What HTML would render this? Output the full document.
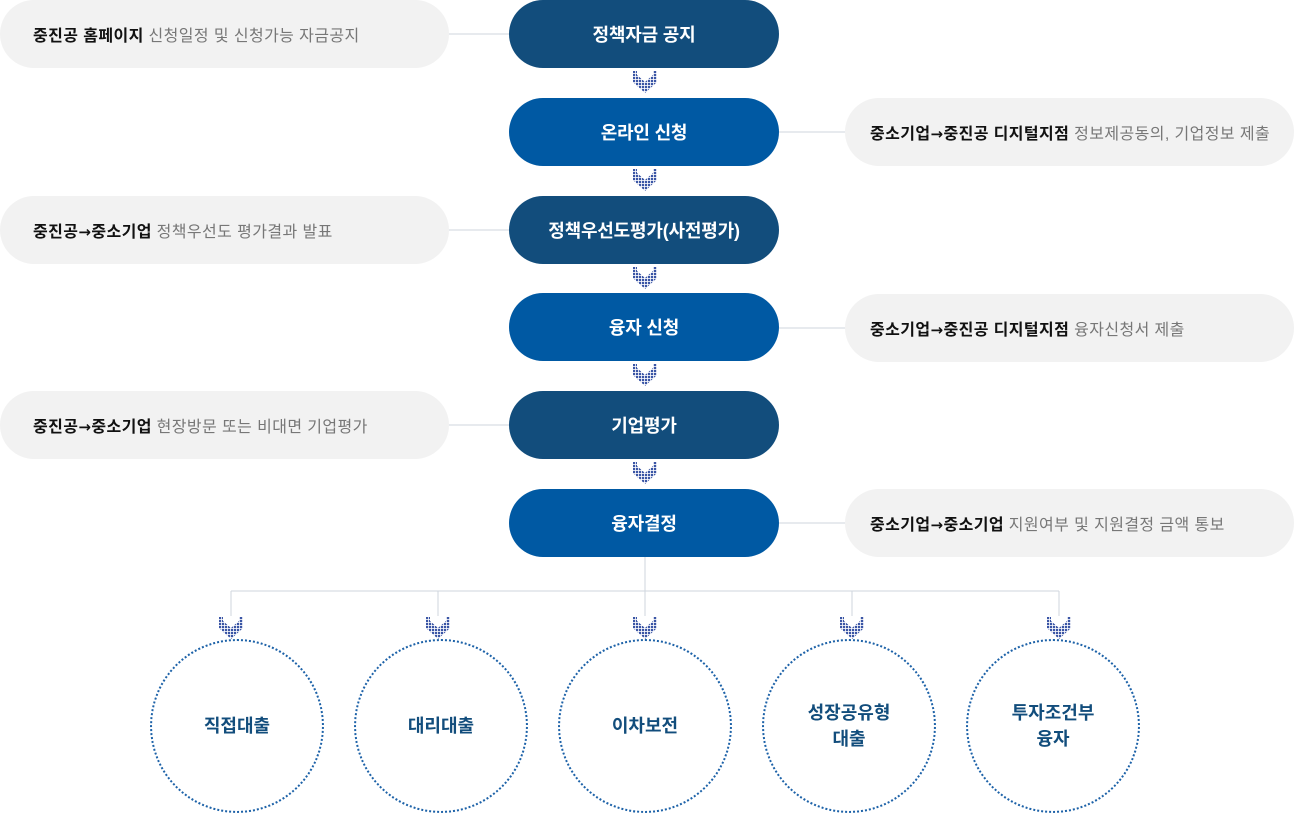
<!DOCTYPE html>
<html><head><meta charset="utf-8"><style>
*{margin:0;padding:0;box-sizing:border-box}
body{width:1294px;height:814px;background:#fff;position:relative;overflow:hidden;font-family:"Liberation Sans","Noto Sans CJK KR",sans-serif}
.box{position:absolute;left:509px;width:270px;height:68px;border-radius:34px;color:#fff;font-weight:bold;font-size:18px;display:flex;align-items:center;justify-content:center;letter-spacing:-0.2px}
.d{background:#124d7c}.b{background:#0059a3}
.pill{position:absolute;width:449px;height:68px;border-radius:34px;background:#f2f2f2;font-size:16px;color:#777;display:flex;align-items:center;letter-spacing:0.4px;white-space:nowrap}
.pill b{color:#111}
.ar{font-family:"DejaVu Sans",sans-serif;font-weight:bold;font-size:15px}
.l{left:0;padding-left:33px}.r{left:845px;padding-left:25px}
.c{position:absolute;width:174px;height:174px;border-radius:50%;border:2px dotted #1d62a8;display:flex;align-items:center;justify-content:center;text-align:center;color:#124d7c;font-weight:bold;font-size:18px;line-height:26px;top:639px}
svg{position:absolute;left:0;top:0}
</style></head><body>
<svg width="1294" height="814">
<defs>
<pattern id="p" width="3" height="3" patternUnits="userSpaceOnUse"><rect width="2.2" height="2.2" fill="#3a55a5"/></pattern>
<g id="a"><polygon points="-12,0 -8,0 -8,4 0,11 8,4 8,0 12,0 12,11 0,22 -12,11" fill="url(#p)"/></g>
</defs>
<g stroke="#cfd6de" stroke-width="1" fill="none">
<line x1="448" y1="34" x2="509" y2="34"/>
<line x1="779" y1="132" x2="845" y2="132"/>
<line x1="448" y1="230" x2="509" y2="230"/>
<line x1="779" y1="328" x2="845" y2="328"/>
<line x1="448" y1="425" x2="509" y2="425"/>
<line x1="779" y1="523" x2="845" y2="523"/>
<line x1="645" y1="557" x2="645" y2="616"/>
<line x1="231" y1="591" x2="1059" y2="591"/>
<line x1="231" y1="591" x2="231" y2="616"/>
<line x1="438" y1="591" x2="438" y2="616"/>
<line x1="852" y1="591" x2="852" y2="616"/>
<line x1="1059" y1="591" x2="1059" y2="616"/>
</g>
<use href="#a" x="645" y="71"/><use href="#a" x="645" y="169"/><use href="#a" x="645" y="267"/>
<use href="#a" x="645" y="364"/><use href="#a" x="645" y="462"/>
<use href="#a" x="231" y="617"/><use href="#a" x="438" y="617"/><use href="#a" x="645" y="617"/><use href="#a" x="852" y="617"/><use href="#a" x="1059" y="617"/>
</svg>
<div class="box d" style="top:0">정책자금 공지</div>
<div class="box b" style="top:98px">온라인 신청</div>
<div class="box d" style="top:196px">정책우선도평가(사전평가)</div>
<div class="box b" style="top:293px">융자 신청</div>
<div class="box d" style="top:391px">기업평가</div>
<div class="box b" style="top:489px">융자결정</div>
<div class="pill l" style="top:0"><b>중진공 홈페이지</b>&nbsp;신청일정 및 신청가능 자금공지</div>
<div class="pill r" style="top:98px"><b>중소기업<span class="ar">→</span>중진공 디지털지점</b>&nbsp;정보제공동의, 기업정보 제출</div>
<div class="pill l" style="top:196px"><b>중진공<span class="ar">→</span>중소기업</b>&nbsp;정책우선도 평가결과 발표</div>
<div class="pill r" style="top:294px"><b>중소기업<span class="ar">→</span>중진공 디지털지점</b>&nbsp;융자신청서 제출</div>
<div class="pill l" style="top:391px"><b>중진공<span class="ar">→</span>중소기업</b>&nbsp;현장방문 또는 비대면 기업평가</div>
<div class="pill r" style="top:489px"><b>중소기업<span class="ar">→</span>중소기업</b>&nbsp;지원여부 및 지원결정 금액 통보</div>
<div class="c" style="left:150px">직접대출</div>
<div class="c" style="left:354px">대리대출</div>
<div class="c" style="left:558px">이차보전</div>
<div class="c" style="left:762px">성장공유형<br>대출</div>
<div class="c" style="left:966px">투자조건부<br>융자</div>
</body></html>
